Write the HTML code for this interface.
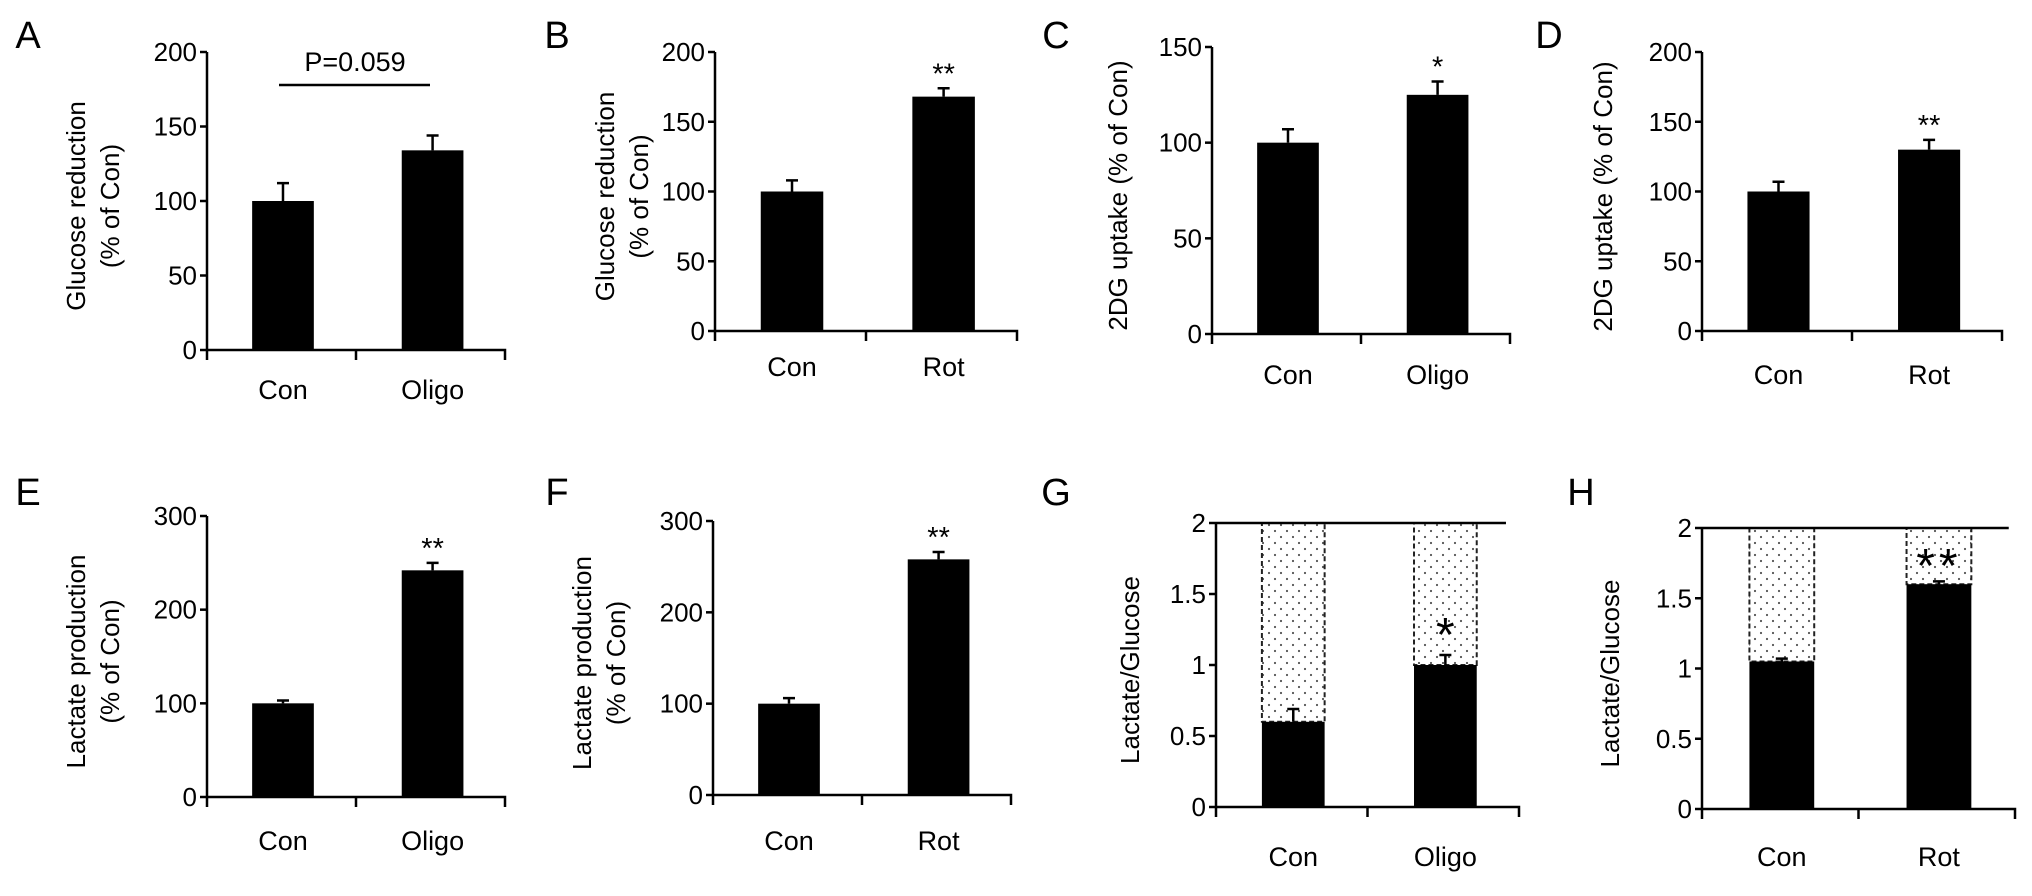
<!DOCTYPE html>
<html><head><meta charset="utf-8"><style>
html,body{margin:0;padding:0;background:#fff;}
svg{display:block;font-family:"Liberation Sans",Arial,sans-serif;}
</style></head><body>
<svg id="fig" width="2032" height="896" viewBox="0 0 2032 896">
<defs>
<pattern id="dots" width="12" height="12" patternUnits="userSpaceOnUse">
<rect width="12" height="12" fill="#fff"/>
<circle cx="3" cy="3" r="1.1" fill="#555"/><circle cx="9" cy="9" r="1.1" fill="#555"/>
</pattern>
</defs>
</svg>
<script>
const panelLetters = ['A','B','C','D','E','F','G','H'];
const panelCats = [['Con','Oligo'],['Con','Rot'],['Con','Oligo'],['Con','Rot'],['Con','Oligo'],['Con','Rot'],['Con','Oligo'],['Con','Rot']];
const panelVals = [[100,134],[100,168],[100,125],[100,130],[100,242],[100,258],[0.6,1.0],[1.05,1.6]];
const panelErrs = [[12,10],[8,6],[7,7],[7,7],[3,8],[6,8],[0.09,0.07],[0.02,0.02]];
const panelMax = [200,200,150,200,300,300,2,2];
const panelTicks = [[0,50,100,150,200],[0,50,100,150,200],[0,50,100,150],[0,50,100,150,200],[0,100,200,300],[0,100,200,300],[0,0.5,1,1.5,2],[0,0.5,1,1.5,2]];
const panelSig = [['',''],['','**'],['','*'],['','**'],['','**'],['','**'],['','*'],['','**']];
const yTitle1 = ['Glucose reduction','Glucose reduction','2DG uptake (% of Con)','2DG uptake (% of Con)','Lactate production','Lactate production','Lactate/Glucose','Lactate/Glucose'];
const yTitle2 = ['(% of Con)','(% of Con)','','','(% of Con)','(% of Con)','',''];
const pValueText = 'P=0.059';

// layout (pixel geometry, not data)
const L = [
 {ax:207,xe:505,yt:52,y0:350,lx:28,ly:36,t1:76,t2:110,cy:390},
 {ax:715,xe:1017,yt:52,y0:331,lx:557,ly:36,t1:605,t2:639,cy:367},
 {ax:1212,xe:1510,yt:47,y0:334,lx:1056,ly:36,t1:1118,t2:0,cy:375},
 {ax:1702,xe:2002,yt:52,y0:331,lx:1549,ly:36,t1:1603,t2:0,cy:375},
 {ax:207,xe:505,yt:516,y0:797,lx:28,ly:493,t1:76,t2:110,cy:841},
 {ax:713,xe:1011,yt:521,y0:795,lx:557,ly:493,t1:582,t2:616,cy:841},
 {ax:1216,xe:1519,yt:523,y0:807,lx:1056,ly:493,t1:1130,t2:0,cy:857,top:0.957,so:-14},
 {ax:1702,xe:2015,yt:528,y0:809,lx:1581,ly:493,t1:1610,t2:0,cy:857,top:0.98,so:-2}
];
const svg = document.getElementById('fig');
const NS = 'http://www.w3.org/2000/svg';
function mk(tag, attrs, parent){const e=document.createElementNS(NS,tag);for(const k in attrs)e.setAttribute(k,attrs[k]);(parent||svg).appendChild(e);return e;}
function txt(s, attrs, parent){const e=mk('text',attrs,parent);e.textContent=s;return e;}

for(let p=0;p<8;p++){
  const g=mk('g',{});
  
  
  const c=L[p];
  const stacked = p>=6;
  const yS = v => c.y0 - (v/panelMax[p])*(c.y0-c.yt);
  const len = c.xe-c.ax;
  const xS = i => c.ax + len*(0.255+0.502*i);
  const bw = len*0.207;
  const letter=txt(panelLetters[p],{x:c.lx,y:c.ly,'font-size':38,'text-anchor':'middle','dominant-baseline':'central',fill:'#000'},g);
  
  
  const tcy=(c.yt+c.y0)/2+5;
  const t1=txt(yTitle1[p],{x:c.t1,y:tcy,'font-size':26,'text-anchor':'middle','dominant-baseline':'central',transform:`rotate(-90 ${c.t1} ${tcy})`},g);
  
  
  if(yTitle2[p]){
    const t2=txt(yTitle2[p],{x:c.t2,y:tcy,'font-size':26,'text-anchor':'middle','dominant-baseline':'central',transform:`rotate(-90 ${c.t2} ${tcy})`},g);
    
    
  }
  for(let i=0;i<2;i++){
    const v=panelVals[p][i], x=xS(i)-bw/2;
    if(stacked){
      const d=mk('rect',{x:x,y:yS(2),width:bw,height:yS(v)-yS(2),fill:'url(#dots)',stroke:'#222','stroke-width':2,'stroke-dasharray':'5 3'},g);
      
      
    }
    const b=mk('rect',{x:x,y:yS(v),width:bw,height:c.y0-yS(v),fill:'#000'},g);
    
    
    const e=panelErrs[p][i];
    const eb=mk('path',{d:`M${xS(i)} ${yS(v)} V${yS(v+e)} M${xS(i)-6} ${yS(v+e)} H${xS(i)+6}`,stroke:'#000','stroke-width':2.5,fill:'none'},g);
    
    
    const s=panelSig[p][i];
    if(s){
      let st;
      if(stacked) st=txt(s,{x:xS(i),y:yS(v)+c.so,'font-size':48,'text-anchor':'middle','letter-spacing':s.length>1?4:0},g);
      else st=txt(s,{x:xS(i),y:yS(v+e)-5,'font-size':29,'text-anchor':'middle'},g);
      
      
    }
    const cl=txt(panelCats[p][i],{x:xS(i),y:c.cy,'font-size':27,'text-anchor':'middle','dominant-baseline':'central'},g);
    
    
  }
  const ya=mk('path',{d:`M${c.ax} ${c.yt} V${c.y0+10}`,stroke:'#000','stroke-width':2.5,fill:'none'},g);
  
  
  const xa=mk('path',{d:`M${c.ax} ${c.y0} H${c.xe} V${c.y0+10} M${c.ax+len/2} ${c.y0} V${c.y0+10}`,stroke:'#000','stroke-width':2.5,fill:'none'},g);
  
  
  if(stacked){
    const tl=mk('line',{x1:c.ax,y1:yS(2),x2:c.ax+len*c.top,y2:yS(2),stroke:'#000','stroke-width':2.5},g);
    
    
  }
  panelTicks[p].forEach(t=>{
    mk('line',{x1:c.ax-7,y1:yS(t),x2:c.ax,y2:yS(t),stroke:'#000','stroke-width':2.5},g);
    const tl=txt(String(t),{x:c.ax-10,y:yS(t),'font-size':26,'text-anchor':'end','dominant-baseline':'central'},g);
    
    
  });
  if(p===0){
    const pl=mk('line',{x1:279,y1:85,x2:430,y2:85,stroke:'#000','stroke-width':2.5},g);
    
    
    const pt=txt(pValueText,{x:355,y:62,'font-size':27,'text-anchor':'middle','dominant-baseline':'central'},g);
    
    
  }
}
</script>
</body></html>
